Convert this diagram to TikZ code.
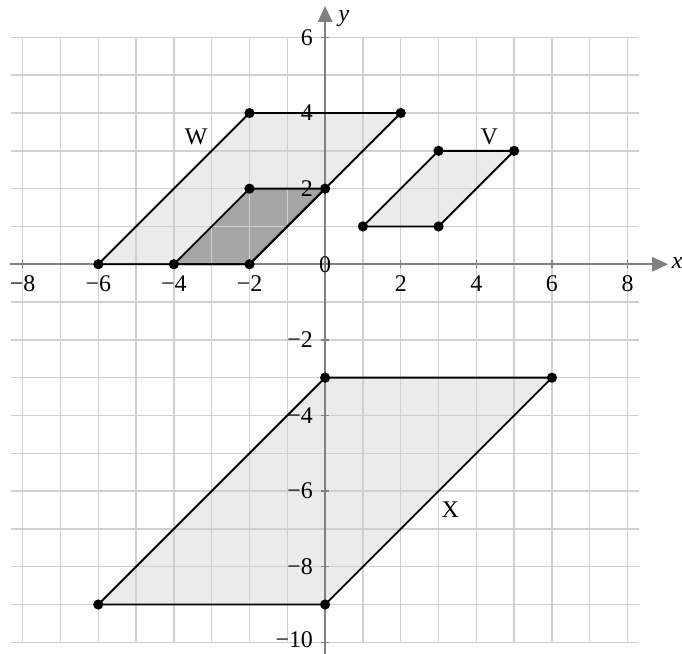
\documentclass[tikz,border=0pt]{standalone}
\usepackage{fontspec}
\setmainfont{Liberation Serif}
\usepackage{tikz}
\usetikzlibrary{arrows.meta}
\definecolor{GridGray}{HTML}{D0D0D0}
\definecolor{AxisGray}{HTML}{808080}
\definecolor{ShadeLight}{HTML}{EBEBEB}
\definecolor{ShadeDark}{HTML}{A6A6A6}
\tikzset{
    % Grid and axis styles
    gridline/.style={
        draw=GridGray,
        line width=1.1pt
    },
    axisline/.style={
        draw=AxisGray,
        line width=1.3pt,
        -{Triangle[length=0.42cm,width=0.38cm]}
    },
    tickmark/.style={
        draw=AxisGray,
        line width=1pt
    },
    ticklabel/.style={
        font=\fontsize{18}{21}\selectfont,
        inner sep=1pt
    },
    % Shape styles
    lightfill/.style={
        fill=ShadeLight,
        draw=none
    },
    darkfill/.style={
        fill=ShadeDark,
        draw=none
    },
    shapeedge/.style={
        draw=black,
        line width=1.4pt,
        line join=round
    },
    vertexdot/.style={
        circle,
        fill=black,
        inner sep=0pt,
        minimum size=0.27cm
    },
    shapelabel/.style={
        font=\fontsize{18}{21}\selectfont
    }
}
\begin{document}
\begin{tikzpicture}
    \useasboundingbox (-8.6,-10.3) rectangle (9.44,6.99);

    % Vertices
    \coordinate (w1) at (-6,0);  \coordinate (w2) at (-2,0);
    \coordinate (w3) at (2,4);   \coordinate (w4) at (-2,4);
    \coordinate (d1) at (-4,0);  \coordinate (d2) at (-2,0);
    \coordinate (d3) at (0,2);   \coordinate (d4) at (-2,2);
    \coordinate (v1) at (1,1);   \coordinate (v2) at (3,1);
    \coordinate (v3) at (5,3);   \coordinate (v4) at (3,3);
    \coordinate (x1) at (-6,-9); \coordinate (x2) at (0,-9);
    \coordinate (x3) at (6,-3);  \coordinate (x4) at (0,-3);

    % Fills
    \fill[lightfill] (w1) -- (w2) -- (w3) -- (w4) -- cycle;
    \fill[darkfill] (d1) -- (d2) -- (d3) -- (d4) -- cycle;
    \fill[lightfill] (v1) -- (v2) -- (v3) -- (v4) -- cycle;
    \fill[lightfill] (x1) -- (x2) -- (x3) -- (x4) -- cycle;

    % Grid
    \foreach \x in {-8,...,8}
        \draw[gridline] (\x,-10) -- (\x,6);
    \foreach \y in {-10,...,6}
        \draw[gridline] (-8.31,\y) -- (8.31,\y);

    % Axes
    \coordinate (xstart) at (-8.33,0);
    \coordinate (xend) at (9.07,0);
    \coordinate (ystart) at (0,-10.3);
    \coordinate (yend) at (0,6.83);
    \draw[axisline] (xstart) -- (xend);
    \draw[axisline] (ystart) -- (yend);
    \node[font=\fontsize{18}{21}\selectfont\itshape] (xlab) at (9.31,0.02) {x};
    \node[font=\fontsize{18}{21}\selectfont\itshape] (ylab) at (0.5,6.5) {y};

    % Ticks and labels
    \foreach \x/\t in {-8/−8,-6/−6,-4/−4,-2/−2,2/2,4/4,6/6,8/8} {
        \draw[tickmark] (\x,-0.11) -- (\x,0.11);
        \node[ticklabel] at (\x,-0.52) {\t};
    }
    \foreach \y/\t in {-8/−8,-6/−6,-4/−4,-2/−2,2/2,4/4,6/6} {
        \draw[tickmark] (-0.11,\y) -- (0.11,\y);
        \node[ticklabel,anchor=east] at (-0.28,\y) {\t};
    }
    \draw[tickmark] (-0.11,-10) -- (0.11,-10);
    \node[ticklabel,anchor=east] (ybottom) at (-0.28,-9.93) {−10};
    \node[ticklabel] (origin) at (0,0) {0};

    % Edges
    \draw[shapeedge] (w1) -- (w2) -- (w3) -- (w4) -- cycle;
    \draw[shapeedge] (d1) -- (d2) -- (d3) -- (d4) -- cycle;
    \draw[shapeedge] (v1) -- (v2) -- (v3) -- (v4) -- cycle;
    \draw[shapeedge] (x1) -- (x2) -- (x3) -- (x4) -- cycle;

    % Dots
    \foreach \p in {w1,w2,w3,w4,d1,d3,d4,v1,v2,v3,v4,x1,x2,x3,x4}
        \node[vertexdot] (dot-\p) at (\p) {};

    % Labels
    \node[shapelabel] (wname) at (-3.41,3.37) {W};
    \node[shapelabel] (vname) at (4.34,3.37) {V};
    \node[shapelabel] (xname) at (3.31,-6.5) {X};
\end{tikzpicture}
\end{document}
